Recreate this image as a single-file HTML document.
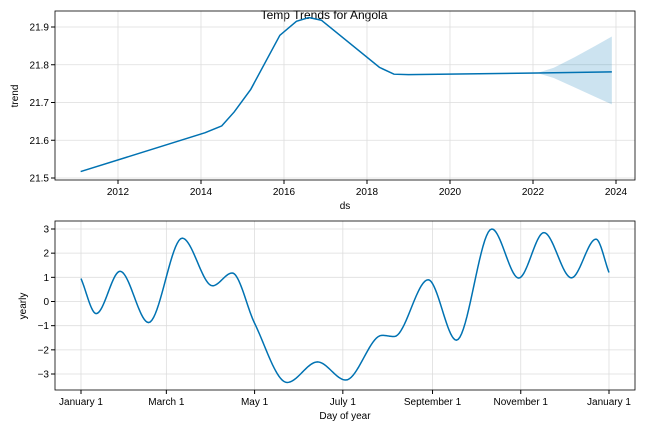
<!DOCTYPE html>
<html><head><meta charset="utf-8"><style>
body{margin:0;background:#fff}
svg{font-family:"Liberation Sans","DejaVu Sans",sans-serif;font-size:10px}
</style></head><body>
<svg id="c" width="648" height="432" xmlns="http://www.w3.org/2000/svg">
<rect width="648" height="432" fill="#fff"/>
<text x="324" y="19" text-anchor="middle" font-size="12">Temp Trends for Angola</text>
<g id="topPanel"></g>
<g id="botPanel"></g>
</svg>
<script>
const trendYears=[2011.1,2014.1,2014.5,2014.8,2015.2,2015.9,2016.3,2016.6,2016.9,2018.3,2018.65,2019,2022.1,2023.9];
const trendVals=[21.517,21.62,21.638,21.675,21.735,21.878,21.915,21.925,21.918,21.793,21.775,21.774,21.778,21.781];
const bandYears=[2022.1,2022.5,2023,2023.5,2023.9];
const bandUpper=[21.778,21.792,21.82,21.85,21.875];
const bandLower=[21.778,21.765,21.74,21.715,21.695];
const trendTicks=[2012,2014,2016,2018,2020,2022,2024];
const trendYTicks=[21.5,21.6,21.7,21.8,21.9];
const yearlyDays=[0,10.5,27,46.7,70,90.9,104.5,120,142.5,163.5,183,208,216.5,240,259.5,284,302.6,320,339,356,365];
const yearlyVals=[0.95,-0.5,1.25,-0.87,2.62,0.65,1.18,-0.9,-3.35,-2.5,-3.25,-1.4,-1.45,0.9,-1.6,3.0,0.97,2.85,0.98,2.58,1.2];
const monthLabels=["January 1","March 1","May 1","July 1","September 1","November 1","January 1"];
const monthDays=[0,59,120,181,243,304,365];
const yearlyTicks=[-3,-2,-1,0,1,2,3];

const NS="http://www.w3.org/2000/svg";
function mk(p,t,a){const e=document.createElementNS(NS,t);for(const k in a)e.setAttribute(k,a[k]);p.appendChild(e);return e;}
const L=55,R=635;
const tx=y=>118+(y-2012)*(616-118)/12;
const ty=v=>178-(v-21.5)*37.75/0.1;
const bx=d=>81+d*(609-81)/365;
const by=v=>301.5-v*24.17;

function monoPath(xs,ys,fx,fy){
 const n=xs.length,m=[],d=[];
 for(let i=0;i<n-1;i++)d.push((ys[i+1]-ys[i])/(xs[i+1]-xs[i]));
 for(let i=0;i<n;i++){if(i==0)m.push(d[0]);else if(i==n-1)m.push(d[n-2]);else m.push(d[i-1]*d[i]<=0?0:(d[i-1]+d[i])/2);}
 let s="M"+fx(xs[0])+","+fy(ys[0]);
 for(let i=0;i<n-1;i++){for(let k=1;k<=20;k++){const t=k/20,h=xs[i+1]-xs[i];
  const h00=2*t*t*t-3*t*t+1,h10=t*t*t-2*t*t+t,h01=-2*t*t*t+3*t*t,h11=t*t*t-t*t;
  const y=h00*ys[i]+h10*h*m[i]+h01*ys[i+1]+h11*h*m[i+1];
  s+=" L"+fx(xs[i]+t*h).toFixed(2)+","+fy(y).toFixed(2);}}
 return s;}

const topG=document.getElementById('topPanel');
trendTicks.forEach(t=>{const x=tx(t);
 const g=mk(topG,'line',{x1:x,x2:x,y1:11,y2:180,stroke:'#ddd','stroke-width':0.8});
 
 mk(topG,'line',{x1:x,x2:x,y1:180,y2:184,stroke:'#000'});
 const l=mk(topG,'text',{x:x,y:195,'text-anchor':'middle'});l.textContent=t;
 });
trendYTicks.forEach(t=>{const y=ty(t);
 mk(topG,'line',{x1:L,x2:R,y1:y,y2:y,stroke:'#ddd','stroke-width':0.8});
 mk(topG,'line',{x1:L-4,x2:L,y1:y,y2:y,stroke:'#000'});
 const l=mk(topG,'text',{x:L-6,y:y+3.5,'text-anchor':'end'});l.textContent=t.toFixed(1);
 });
let bp="M"+bandYears.map((y,i)=>tx(y)+","+ty(bandUpper[i])).join(" L");
for(let i=bandYears.length-1;i>=0;i--)bp+=" L"+tx(bandYears[i])+","+ty(bandLower[i]);
const band=mk(topG,'path',{d:bp+"Z",fill:'#0072B2','fill-opacity':0.2});

const tl=mk(topG,'path',{d:"M"+trendYears.map((y,i)=>tx(y)+","+ty(trendVals[i])).join(" L"),fill:'none',stroke:'#0072B2','stroke-width':1.5});

mk(topG,'rect',{x:L,y:11,width:R-L,height:169,fill:'none',stroke:'#000','stroke-width':0.8});
let a=mk(topG,'text',{x:345,y:209,'text-anchor':'middle'});a.textContent='ds';

a=mk(topG,'text',{x:18,y:96,'text-anchor':'middle',transform:'rotate(-90 18 96)'});a.textContent='trend';


const botG=document.getElementById('botPanel');
monthDays.forEach((d,i)=>{const x=bx(d);
 mk(botG,'line',{x1:x,x2:x,y1:221,y2:390,stroke:'#ddd','stroke-width':0.8});
 mk(botG,'line',{x1:x,x2:x,y1:390,y2:394,stroke:'#000'});
 const l=mk(botG,'text',{x:x,y:405,'text-anchor':'middle'});l.textContent=monthLabels[i];
 });
yearlyTicks.forEach(t=>{const y=by(t);
 mk(botG,'line',{x1:L,x2:R,y1:y,y2:y,stroke:'#ddd','stroke-width':0.8});
 mk(botG,'line',{x1:L-4,x2:L,y1:y,y2:y,stroke:'#000'});
 const l=mk(botG,'text',{x:L-6,y:y+3.5,'text-anchor':'end'});l.textContent=t<0?'\u2212'+(-t):t;
 });
const yl=mk(botG,'path',{d:monoPath(yearlyDays,yearlyVals,bx,by),fill:'none',stroke:'#0072B2','stroke-width':1.5});

mk(botG,'rect',{x:L,y:221,width:R-L,height:169,fill:'none',stroke:'#000','stroke-width':0.8});
a=mk(botG,'text',{x:345,y:419,'text-anchor':'middle'});a.textContent='Day of year';

a=mk(botG,'text',{x:26,y:306,'text-anchor':'middle',transform:'rotate(-90 26 306)'});a.textContent='yearly';

</script>
</body></html>
